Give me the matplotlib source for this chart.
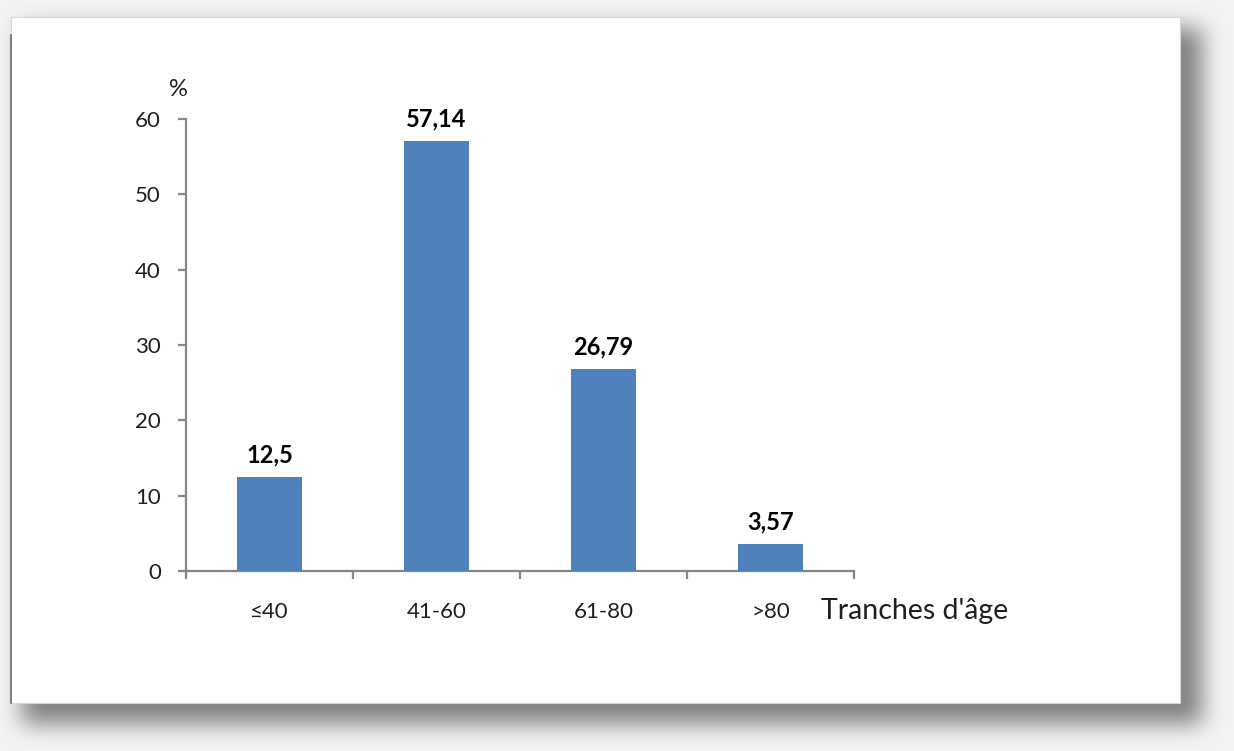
import numpy as np
import matplotlib
matplotlib.use("Agg")
import matplotlib.pyplot as plt
from matplotlib.patches import Rectangle

# Age-group distribution (%)
categories = ["≤40", "41-60", "61-80", ">80"]
values = [12.5, 57.14, 26.79, 3.57]
value_labels = ["12,5", "57,14", "26,79", "3,57"]
y_ticks = [0, 10, 20, 30, 40, 50, 60]

W, H = 1234, 751
plt.rcParams["font.family"] = ["Lato", "DejaVu Sans"]

fig = plt.figure(figsize=(W / 100, H / 100), dpi=100)
fig.patch.set_facecolor("#f3f3f3")

# Background layer in pixel coordinates: soft drop shadow behind a white card
bg = fig.add_axes([0, 0, 1, 1])
bg.set_xlim(0, W)
bg.set_ylim(H, 0)
bg.axis("off")

card_x0, card_y0, card_x1, card_y1 = 11, 17, 1180, 703
mask = np.zeros((H, W))
mask[28:724, 22:1202] = 1.0


def box_blur(a, r, axis):
    k = np.ones(2 * r + 1) / (2 * r + 1)
    return np.apply_along_axis(lambda v: np.convolve(v, k, mode="same"), axis, a)


shadow = mask
for _ in range(3):
    shadow = box_blur(shadow, 10, 0)
    shadow = box_blur(shadow, 10, 1)

rgba = np.zeros((H, W, 4))
rgba[..., :3] = 0.4
rgba[..., 3] = shadow * 0.8
bg.imshow(rgba, extent=(0, W, H, 0), interpolation="bilinear", zorder=1)

bg.add_patch(Rectangle((card_x0, card_y0), card_x1 - card_x0, card_y1 - card_y0,
                       facecolor="white", edgecolor="#d9d9d9", linewidth=0.8, zorder=2))
bg.plot([card_x0, card_x0], [35, card_y1], color="#6e6e6e", linewidth=1.2, zorder=3)

# Chart axes
ax = fig.add_axes([186 / W, 1 - 571 / H, (854 - 186) / W, (571 - 119) / H])
ax.set_facecolor("none")

x = np.arange(len(categories))
bars = ax.bar(x, values, width=0.39, color="#4f81bd", zorder=3)

ax.set_xlim(-0.5, len(categories) - 0.5)
ax.set_ylim(0, 60)
ax.set_yticks(y_ticks)
ax.set_xticks(x)
ax.set_xticklabels(categories)
ax.set_xticks(np.arange(-0.5, len(categories), 1.0), minor=True)

for side in ("top", "right"):
    ax.spines[side].set_visible(False)
for side in ("left", "bottom"):
    ax.spines[side].set_color("#868686")
    ax.spines[side].set_linewidth(1.6)

tick_color = "#1f1f1f"
ax.tick_params(axis="y", direction="out", length=6, width=1.6, color="#868686",
               labelsize=16, labelcolor=tick_color, pad=12)
ax.tick_params(axis="x", which="major", length=0, labelsize=16,
               labelcolor=tick_color, pad=22)
ax.tick_params(axis="x", which="minor", direction="out", length=6, width=1.6,
               color="#868686")

for rect, lab in zip(bars, value_labels):
    ax.annotate(lab, (rect.get_x() + rect.get_width() / 2, rect.get_height()),
                xytext=(0, 7.5), textcoords="offset points", ha="center", va="bottom",
                fontsize=17, fontweight="bold", color="black")

fig.text(178 / W, 1 - 90 / H, "%", ha="center", va="center", fontsize=17,
         color=tick_color)
fig.text(821 / W, 1 - 611 / H, "Tranches d'âge", ha="left", va="center",
         fontsize=20.5, color=tick_color)

fig.savefig("out.png", dpi=100, facecolor=fig.get_facecolor())
